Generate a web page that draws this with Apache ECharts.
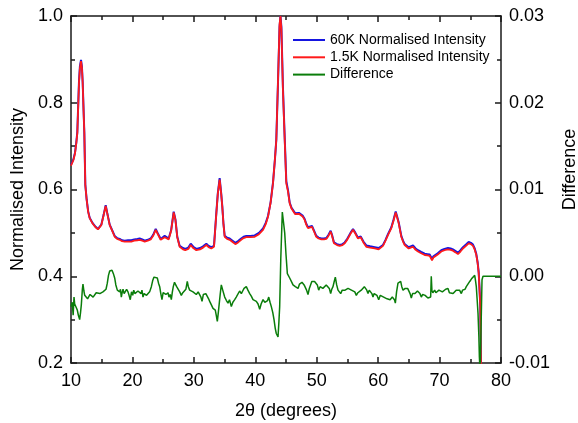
<!DOCTYPE html>
<html>
<head>
<meta charset="utf-8">
<script src="https://cdn.jsdelivr.net/npm/echarts@6/dist/echarts.min.js"></script>
<style>
  html, body { margin: 0; padding: 0; background: #fff; }
  #chart { width: 578px; height: 423px; }
</style>
</head>
<body>
<div id="chart"></div>
<script>
// 2-theta positions shared by both intensity scans
const intensityTheta = [
  10.0, 10.16, 10.4, 10.65, 10.85, 11.03, 11.3, 11.45, 11.63, 11.78, 11.9, 12.05, 12.17, 12.33, 12.55, 12.8,
  13.04, 13.5, 14.0, 14.4, 14.7, 14.94, 15.3, 15.65, 15.9, 16.3, 16.7, 17.11, 17.5, 17.93, 18.3, 18.74,
  19.3, 19.82, 20.3, 20.8, 21.18, 21.6, 22.0, 22.5, 22.97, 23.4, 23.79, 24.1, 24.6, 25.25, 25.9, 26.3,
  26.72, 27.0, 27.3, 27.69, 28.23, 28.6, 29.1, 29.49, 29.9, 30.4, 31.0, 31.5, 32.03, 32.4, 32.84, 33.28,
  33.66, 33.9, 34.2, 34.45, 34.63, 34.82, 35.02, 35.4, 35.83, 36.3, 36.75, 37.2, 37.7, 38.1, 38.54, 39.2,
  39.9, 40.6, 41.26, 41.7, 42.07, 42.5, 42.88, 43.2, 43.42, 43.7, 43.95, 44.1, 44.25, 44.5, 44.79, 45.05,
  45.33, 45.6, 45.9, 46.14, 46.5, 46.8, 47.1, 47.39, 47.7, 48.04, 48.3, 48.58, 48.9, 49.23, 49.6, 49.93,
  50.3, 50.75, 51.2, 51.56, 51.9, 52.27, 52.5, 52.81, 53.3, 53.74, 54.2, 54.56, 55.0, 55.5, 55.91, 56.3,
  56.72, 57.16, 57.6, 58.07, 58.7, 59.44, 60.09, 60.79, 61.2, 61.6, 62.15, 62.5, 62.86, 63.1, 63.35, 63.77,
  64.05, 64.32, 64.97, 65.3, 65.67, 66.1, 66.49, 67.0, 67.58, 68.0, 68.39, 68.6, 68.77, 69.0, 69.2, 69.7,
  70.28, 70.8, 71.37, 71.8, 72.18, 72.6, 72.99, 73.4, 73.81, 74.3, 74.74, 75.1, 75.44, 75.7, 75.98, 76.2,
  76.37, 76.5, 76.63, 76.78
];

// normalised intensity measured at 60 K
const intensity60K = [
  0.657, 0.662, 0.670, 0.685, 0.707, 0.733, 0.849, 0.884, 0.899, 0.883, 0.848, 0.782, 0.731, 0.611, 0.577, 0.549,
  0.535, 0.523, 0.514, 0.509, 0.511, 0.519, 0.541, 0.564, 0.546, 0.519, 0.506, 0.493, 0.488, 0.486, 0.483, 0.482,
  0.483, 0.483, 0.485, 0.486, 0.487, 0.485, 0.482, 0.484, 0.487, 0.496, 0.509, 0.500, 0.486, 0.493, 0.487, 0.506,
  0.549, 0.531, 0.491, 0.470, 0.465, 0.463, 0.466, 0.475, 0.468, 0.463, 0.465, 0.469, 0.475, 0.470, 0.467, 0.470,
  0.546, 0.591, 0.626, 0.591, 0.561, 0.521, 0.493, 0.489, 0.487, 0.482, 0.477, 0.481, 0.487, 0.491, 0.493, 0.493,
  0.494, 0.500, 0.510, 0.523, 0.539, 0.571, 0.615, 0.670, 0.714, 0.848, 0.975, 1.000, 0.975, 0.836, 0.719, 0.619,
  0.598, 0.570, 0.558, 0.554, 0.545, 0.543, 0.546, 0.550, 0.540, 0.532, 0.521, 0.513, 0.515, 0.516, 0.504, 0.493,
  0.489, 0.487, 0.487, 0.488, 0.495, 0.505, 0.495, 0.478, 0.474, 0.472, 0.474, 0.478, 0.487, 0.500, 0.509, 0.500,
  0.489, 0.492, 0.480, 0.471, 0.469, 0.467, 0.465, 0.472, 0.484, 0.497, 0.513, 0.530, 0.549, 0.537, 0.524, 0.493,
  0.482, 0.474, 0.467, 0.469, 0.471, 0.464, 0.460, 0.456, 0.452, 0.451, 0.450, 0.448, 0.440, 0.446, 0.447, 0.453,
  0.460, 0.463, 0.465, 0.464, 0.462, 0.458, 0.454, 0.460, 0.467, 0.473, 0.479, 0.477, 0.473, 0.465, 0.451, 0.432,
  0.409, 0.372, 0.332, 0.150
];

// normalised intensity measured at 1.5 K
const intensity1p5K = [
  0.655, 0.660, 0.668, 0.683, 0.705, 0.730, 0.846, 0.880, 0.896, 0.880, 0.846, 0.780, 0.730, 0.610, 0.576, 0.548,
  0.534, 0.522, 0.513, 0.508, 0.510, 0.518, 0.540, 0.562, 0.545, 0.518, 0.505, 0.491, 0.486, 0.484, 0.481, 0.480,
  0.480, 0.480, 0.482, 0.483, 0.484, 0.482, 0.480, 0.482, 0.485, 0.494, 0.507, 0.498, 0.484, 0.490, 0.485, 0.505,
  0.547, 0.530, 0.490, 0.468, 0.462, 0.460, 0.463, 0.472, 0.465, 0.460, 0.462, 0.466, 0.472, 0.467, 0.464, 0.468,
  0.545, 0.590, 0.623, 0.590, 0.560, 0.520, 0.491, 0.486, 0.484, 0.479, 0.474, 0.478, 0.484, 0.488, 0.490, 0.490,
  0.491, 0.497, 0.507, 0.520, 0.537, 0.570, 0.614, 0.670, 0.714, 0.850, 0.980, 1.000, 0.970, 0.830, 0.714, 0.614,
  0.595, 0.568, 0.556, 0.552, 0.543, 0.541, 0.544, 0.547, 0.538, 0.530, 0.519, 0.511, 0.513, 0.514, 0.502, 0.491,
  0.487, 0.485, 0.485, 0.486, 0.493, 0.503, 0.493, 0.476, 0.472, 0.470, 0.472, 0.476, 0.485, 0.498, 0.507, 0.498,
  0.487, 0.490, 0.478, 0.468, 0.466, 0.464, 0.462, 0.470, 0.482, 0.495, 0.511, 0.528, 0.547, 0.535, 0.522, 0.491,
  0.480, 0.472, 0.464, 0.466, 0.468, 0.461, 0.457, 0.453, 0.449, 0.448, 0.447, 0.445, 0.437, 0.443, 0.444, 0.450,
  0.457, 0.460, 0.462, 0.461, 0.459, 0.455, 0.451, 0.457, 0.464, 0.470, 0.476, 0.474, 0.470, 0.462, 0.449, 0.430,
  0.407, 0.370, 0.330, 0.150
];

// 2-theta positions of the difference trace
const diffTheta = [
  10.0, 10.2, 10.35, 10.49, 10.6, 10.7, 10.85, 11.03, 11.2, 11.41, 11.55, 11.68, 11.85, 11.95, 12.1, 12.23,
  12.49, 12.7, 12.88, 13.1, 13.31, 13.6, 13.86, 14.1, 14.4, 14.7, 14.94, 15.2, 15.49, 15.7, 15.91, 16.1,
  16.3, 16.5, 16.68, 16.9, 17.11, 17.3, 17.54, 17.7, 17.93, 18.05, 18.19, 18.35, 18.47, 18.65, 18.84, 19.05,
  19.28, 19.45, 19.65, 19.85, 20.05, 20.21, 20.4, 20.63, 20.9, 21.18, 21.4, 21.55, 21.72, 21.9, 22.1, 22.3,
  22.53, 22.8, 23.08, 23.3, 23.51, 23.8, 24.05, 24.25, 24.44, 24.62, 24.81, 25.0, 25.25, 25.45, 25.63, 25.8,
  25.95, 26.15, 26.33, 26.5, 26.65, 26.85, 26.98, 27.2, 27.42, 27.7, 27.96, 28.2, 28.51, 28.7, 28.93, 29.1,
  29.32, 29.6, 29.86, 30.1, 30.4, 30.7, 30.95, 31.15, 31.33, 31.55, 31.76, 31.95, 32.19, 32.4, 32.58, 32.8,
  33.12, 33.3, 33.49, 33.65, 33.82, 33.98, 34.14, 34.3, 34.47, 34.7, 35.02, 35.3, 35.56, 35.8, 36.1, 36.35,
  36.65, 36.9, 37.19, 37.45, 37.73, 37.95, 38.17, 38.54, 38.8, 39.09, 39.35, 39.63, 39.9, 40.17, 40.45, 40.72,
  40.95, 41.26, 41.55, 41.8, 42.0, 42.19, 42.4, 42.61, 42.85, 43.05, 43.25, 43.42, 43.7, 43.85, 43.97, 44.15,
  44.4, 44.6, 44.79, 45.0, 45.22, 45.4, 45.6, 45.76, 45.95, 46.14, 46.3, 46.52, 46.7, 46.96, 47.2, 47.39,
  47.6, 47.77, 47.95, 48.14, 48.35, 48.58, 48.8, 49.02, 49.2, 49.39, 49.65, 49.93, 50.1, 50.32, 50.55, 50.75,
  51.0, 51.3, 51.55, 51.84, 52.05, 52.27, 52.45, 52.65, 52.85, 53.03, 53.25, 53.47, 53.7, 53.9, 54.15, 54.44,
  54.62, 54.82, 55.1, 55.37, 55.65, 55.91, 56.2, 56.45, 56.7, 57.0, 57.25, 57.53, 57.75, 57.97, 58.15, 58.35,
  58.55, 58.79, 58.98, 59.16, 59.35, 59.54, 59.8, 60.09, 60.35, 60.63, 60.9, 61.17, 61.45, 61.72, 61.95, 62.15,
  62.3, 62.48, 62.65, 62.8, 63.0, 63.23, 63.45, 63.67, 63.85, 64.05, 64.21, 64.4, 64.59, 64.8, 64.97, 65.2,
  65.4, 65.6, 65.84, 66.0, 66.21, 66.4, 66.6, 66.8, 67.03, 67.25, 67.46, 67.65, 67.84, 68.1, 68.39, 68.55,
  68.65, 68.75, 68.9, 69.2, 69.4, 69.63, 69.9, 70.18, 70.45, 70.72, 71.0, 71.37, 71.6, 71.91, 72.2, 72.46,
  72.7, 72.99, 73.25, 73.54, 73.75, 73.98, 74.15, 74.35, 74.6, 74.91, 75.2, 75.44, 75.72, 75.85, 75.98, 76.1,
  76.26, 76.4, 76.48, 76.6, 76.75, 76.91, 77.07, 80.0
];

// difference between the two scans
const difference = [
  -0.0035, -0.0030, -0.0045, -0.0024, -0.0032, -0.0031, -0.0036, -0.0039, -0.0045, -0.0050, -0.0042, -0.0033, -0.0015, -0.0009, -0.0017, -0.0022,
  -0.0020, -0.0026, -0.0024, -0.0021, -0.0019, -0.0024, -0.0022, -0.0019, -0.0017, -0.0020, -0.0022, -0.0018, -0.0020, -0.0015, -0.0008, 0.0001,
  0.0006, 0.0008, 0.0007, 0.0003, -0.0002, -0.0010, -0.0016, -0.0017, -0.0018, -0.0015, -0.0024, -0.0018, -0.0015, -0.0020, -0.0020, -0.0015,
  -0.0018, -0.0022, -0.0027, -0.0018, -0.0022, -0.0016, -0.0020, -0.0022, -0.0017, -0.0018, -0.0020, -0.0016, -0.0024, -0.0020, -0.0020, -0.0022,
  -0.0024, -0.0018, -0.0012, -0.0005, -0.0001, -0.0001, -0.0002, -0.0008, -0.0012, -0.0020, -0.0027, -0.0019, -0.0018, -0.0021, -0.0020, -0.0019,
  -0.0024, -0.0021, -0.0027, -0.0018, -0.0012, -0.0007, -0.0006, -0.0012, -0.0014, -0.0018, -0.0022, -0.0019, -0.0020, -0.0015, -0.0006, -0.0012,
  -0.0016, -0.0015, -0.0018, -0.0016, -0.0021, -0.0018, -0.0020, -0.0024, -0.0029, -0.0021, -0.0022, -0.0020, -0.0021, -0.0026, -0.0029, -0.0027,
  -0.0037, -0.0035, -0.0039, -0.0045, -0.0052, -0.0042, -0.0031, -0.0020, -0.0010, -0.0016, -0.0024, -0.0028, -0.0031, -0.0027, -0.0035, -0.0030,
  -0.0027, -0.0024, -0.0022, -0.0017, -0.0020, -0.0017, -0.0014, -0.0012, -0.0016, -0.0020, -0.0023, -0.0027, -0.0025, -0.0029, -0.0032, -0.0038,
  -0.0032, -0.0027, -0.0030, -0.0031, -0.0028, -0.0024, -0.0030, -0.0035, -0.0042, -0.0050, -0.0060, -0.0066, -0.0070, -0.0052, -0.0035, 0.0020,
  0.0074, 0.0062, 0.0050, 0.0025, 0.0003, 0.0002, -0.0002, -0.0004, -0.0007, -0.0010, -0.0009, -0.0012, -0.0011, -0.0014, -0.0009, -0.0008,
  -0.0007, -0.0006, -0.0010, -0.0012, -0.0016, -0.0021, -0.0014, -0.0012, -0.0006, -0.0004, -0.0006, -0.0004, -0.0010, -0.0016, -0.0012, -0.0010,
  -0.0014, -0.0012, -0.0010, -0.0009, -0.0014, -0.0020, -0.0015, -0.0012, -0.0006, -0.0001, -0.0010, -0.0016, -0.0018, -0.0020, -0.0016, -0.0014,
  -0.0016, -0.0018, -0.0014, -0.0012, -0.0016, -0.0014, -0.0018, -0.0022, -0.0019, -0.0018, -0.0016, -0.0014, -0.0012, -0.0010, -0.0016, -0.0020,
  -0.0016, -0.0018, -0.0020, -0.0024, -0.0020, -0.0018, -0.0022, -0.0027, -0.0022, -0.0022, -0.0024, -0.0024, -0.0026, -0.0025, -0.0027, -0.0027,
  -0.0024, -0.0022, -0.0027, -0.0031, -0.0018, -0.0008, -0.0007, -0.0006, -0.0012, -0.0016, -0.0018, -0.0014, -0.0012, -0.0014, -0.0016, -0.0020,
  -0.0025, -0.0020, -0.0018, -0.0020, -0.0020, -0.0017, -0.0016, -0.0020, -0.0024, -0.0021, -0.0022, -0.0022, -0.0024, -0.0025, -0.0027, -0.0024,
  0.0000, -0.0016, -0.0019, -0.0016, -0.0019, -0.0018, -0.0016, -0.0016, -0.0018, -0.0019, -0.0015, -0.0014, -0.0019, -0.0018, -0.0020, -0.0020,
  -0.0016, -0.0018, -0.0016, -0.0020, -0.0016, -0.0014, -0.0015, -0.0012, -0.0010, -0.0006, -0.0003, -0.0001, 0.0001, -0.0005, -0.0012, -0.0025,
  -0.0043, -0.0070, -0.0093, -0.0110, -0.0060, -0.0004, 0.0000, 0.0000
];

const seriesNames = ['60K Normalised Intensity', '1.5K Normalised Intensity', 'Difference'];
const seriesColors = ['#1515e0', '#ff1a1a', '#0a7d0a'];

const pairs = (xs, ys) => xs.map((x, i) => [x, ys[i]]);

const font = '"Liberation Sans", Arial, sans-serif';
const axisLineStyle = { color: '#1a1a1a', width: 1.5 };

const xCommon = {
  type: 'value', min: 10, max: 80, interval: 10,
  axisLine: { show: true, onZero: false, lineStyle: axisLineStyle },
  axisTick: { show: true, inside: true, length: 6, lineStyle: axisLineStyle },
  minorTick: { show: true, splitNumber: 2, length: 4, lineStyle: axisLineStyle },
  splitLine: { show: false }
};

const chart = echarts.init(document.getElementById('chart'), null, { renderer: 'canvas' });
chart.setOption({
  animation: false,
  backgroundColor: '#fff',
  textStyle: { fontFamily: font, color: '#000' },
  grid: { left: 71, right: 77, top: 16, bottom: 60, containLabel: false, outerBoundsMode: 'none' },
  legend: {
    orient: 'vertical', left: 288, top: 27,
    itemWidth: 32, itemHeight: 2, itemGap: 1.3,
    icon: 'rect',
    textStyle: { fontFamily: font, fontSize: 14, color: '#000', lineHeight: 16 },
    data: seriesNames
  },
  xAxis: [
    Object.assign({}, xCommon, {
      position: 'bottom',
      axisLabel: { show: true, fontSize: 18, color: '#000', margin: 9, fontFamily: font },
      name: '2θ (degrees)', nameLocation: 'middle', nameGap: 39,
      nameTextStyle: { fontSize: 18, color: '#000', fontFamily: font }
    }),
    Object.assign({}, xCommon, {
      position: 'top',
      axisLabel: { show: false }
    })
  ],
  yAxis: [
    {
      type: 'value', min: 0.2, max: 1.0, interval: 0.2, position: 'left',
      axisLine: { show: true, onZero: false, lineStyle: axisLineStyle },
      axisTick: { show: true, inside: true, length: 6, lineStyle: axisLineStyle },
      minorTick: { show: true, splitNumber: 2, length: 4, lineStyle: axisLineStyle },
      splitLine: { show: false },
      axisLabel: { fontSize: 18, color: '#000', margin: 8, fontFamily: font, formatter: v => v.toFixed(1) },
      name: 'Normalised Intensity', nameLocation: 'middle', nameGap: 33, nameRotate: 90,
      nameTextStyle: { fontSize: 18, color: '#000', fontFamily: font }
    },
    {
      type: 'value', min: -0.01, max: 0.03, interval: 0.01, position: 'right',
      axisLine: { show: true, onZero: false, lineStyle: axisLineStyle },
      axisTick: { show: true, inside: true, length: 6, lineStyle: axisLineStyle },
      minorTick: { show: true, splitNumber: 2, length: 4, lineStyle: axisLineStyle },
      splitLine: { show: false },
      axisLabel: { fontSize: 18, color: '#000', margin: 8, fontFamily: font, formatter: v => v.toFixed(2) },
      name: 'Difference', nameLocation: 'middle', nameGap: 58, nameRotate: 90,
      nameTextStyle: { fontSize: 18, color: '#000', fontFamily: font, padding: [0, 0, 0, 40] }
    }
  ],
  series: [
    {
      name: seriesNames[0], type: 'line', xAxisIndex: 0, yAxisIndex: 0,
      data: pairs(intensityTheta, intensity60K),
      showSymbol: false, symbol: 'none', clip: true,
      lineStyle: { color: seriesColors[0], width: 2 }, itemStyle: { color: seriesColors[0] }
    },
    {
      name: seriesNames[1], type: 'line', xAxisIndex: 0, yAxisIndex: 0,
      data: pairs(intensityTheta, intensity1p5K),
      showSymbol: false, symbol: 'none', clip: true,
      lineStyle: { color: seriesColors[1], width: 1.8 }, itemStyle: { color: seriesColors[1] }
    },
    {
      name: seriesNames[2], type: 'line', xAxisIndex: 0, yAxisIndex: 1,
      data: pairs(diffTheta, difference),
      showSymbol: false, symbol: 'none', clip: true,
      lineStyle: { color: seriesColors[2], width: 1.5 }, itemStyle: { color: seriesColors[2] }
    }
  ]
});
</script>
</body>
</html>
